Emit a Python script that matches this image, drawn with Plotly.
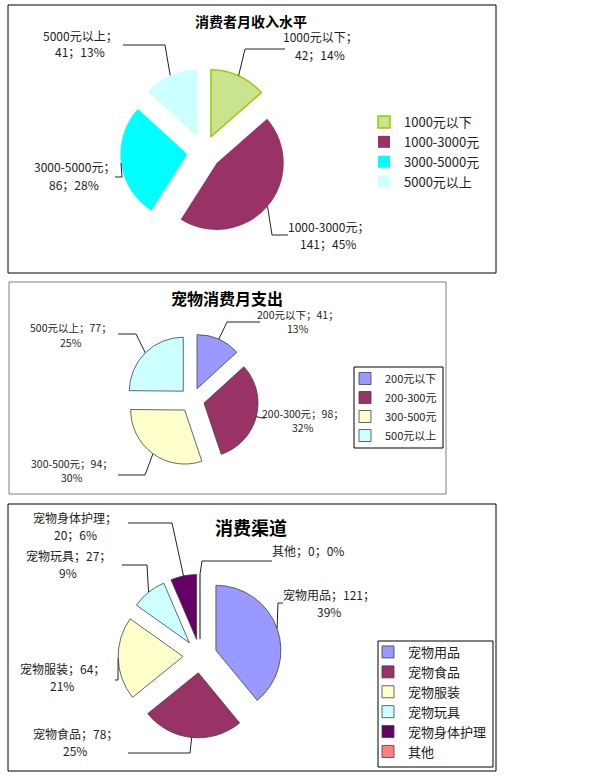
import numpy as np
import plotly.graph_objects as go

W, H = 590, 778
FONT = "Noto Sans CJK SC"

# panel 1: 消费者月收入水平
income_labels = ["1000元以下", "1000-3000元", "3000-5000元", "5000元以上"]
income_values = [42, 141, 86, 41]
income_colors = ["#c9e38f", "#993366", "#00ffff", "#ccffff"]

# panel 2: 宠物消费月支出
spend_labels = ["200元以下", "200-300元", "300-500元", "500元以上"]
spend_values = [41, 98, 94, 77]
spend_colors = ["#9999ff", "#993366", "#ffffcc", "#ccffff"]

# panel 3: 消费渠道
channel_labels = ["宠物用品", "宠物食品", "宠物服装", "宠物玩具", "宠物身体护理", "其他"]
channel_values = [121, 78, 64, 27, 20, 0]
channel_colors = ["#9999ff", "#993366", "#ffffcc", "#ccffff", "#660066", "#ff8080"]


def px(x):
    return x / W


def py(y):
    return 1 - y / H


def pct(values):
    tot = sum(values)
    return [round(v * 100 / tot) for v in values]


def mid_angles(values):
    tot = float(sum(values))
    cum = np.cumsum([0] + list(values))
    return [(cum[i] + cum[i + 1]) / 2 / tot * 2 * np.pi for i in range(len(values))]


# pies: centre (px), radius (px), pull
pies = [
    dict(labels=income_labels, values=income_values, colors=income_colors,
         c=(204, 152), r=67, pull=0.25, legend="legend"),
    dict(labels=spend_labels, values=spend_values, colors=spend_colors,
         c=(192, 400), r=54, pull=0.23, legend="legend2"),
    dict(labels=channel_labels, values=channel_values, colors=channel_colors,
         c=(200, 656), r=65, pull=0.26, legend="legend3"),
]

fig = go.Figure()
for k, p in enumerate(pies):
    half = p["r"] * (1 + p["pull"])
    cx, cy = p["c"]
    if k == 0:
        line = dict(color=["#99cc00", "rgba(0,0,0,0)", "rgba(0,0,0,0)", "rgba(0,0,0,0)"],
                    width=[1.5, 0, 0, 0])
    else:
        line = dict(color="#404040", width=0.8)
    fig.add_trace(go.Pie(
        labels=p["labels"], values=p["values"], sort=False,
        direction="clockwise", rotation=0,
        marker=dict(colors=p["colors"], line=line),
        pull=[p["pull"]] * len(p["values"]),
        textinfo="none", hoverinfo="label+value+percent",
        domain=dict(x=[px(cx - half), px(cx + half)],
                    y=[py(cy + half), py(cy - half)]),
        legend=p["legend"], showlegend=True,
    ))

# data labels: (centre x, first line y), leader start, leader elbow (px)
label_pos = [
    [((320, 37), (285, 49), (245, 49)),
     ((328, 226), (288, 235), (272, 235)),
     ((74, 167), (115, 177), (122, 177)),
     ((80, 35), (123, 45), (165, 45))],
    [((298, 314), (260, 322), (227, 322)),
     ((303, 413), (265, 418), (262, 418)),
     ((72, 463), (118, 475), (145, 475)),
     ((71, 328), (118, 334), (136, 334))],
    [((329, 594), (283, 603), (278, 603)),
     ((75, 733), (128, 753), (190, 753)),
     ((62, 668), (115, 680), (118, 680)),
     ((68, 555), (122, 565), (147, 565)),
     ((75, 517), (128, 523), (172, 523)),
     ((308, 550), (272, 561), (202, 561))],
]
label_lines = [
    [(f"{l}；", f"{v}；{q}%") for l, v, q in zip(income_labels, income_values, pct(income_values))],
    [(f"{l}；{v}；", f"{q}%") for l, v, q in zip(spend_labels, spend_values, pct(spend_values))],
    [(f"{l}；{v}；", f"{q}%") for l, v, q in zip(channel_labels, channel_values, pct(channel_values))],
]
label_lines[2][4] = ("宠物身体护理；", f"{channel_values[4]}；{pct(channel_values)[4]}%")
label_lines[2][5] = (f"其他；{channel_values[5]}；{pct(channel_values)[5]}%",)
label_size = [12, 10.5, 12]
line_gap = [17, 14.5, 17.5]

annotations = []
shapes = []
for k, p in enumerate(pies):
    angs = mid_angles(p["values"])
    cx, cy = p["c"]
    R = p["r"] * (1 + p["pull"])
    for i, (lines, (tc, s, e)) in enumerate(zip(label_lines[k], label_pos[k])):
        ex, ey = cx + R * np.sin(angs[i]), cy - R * np.cos(angs[i])
        for j, txt in enumerate(lines):
            annotations.append(dict(
                x=px(tc[0]), y=py(tc[1] + j * line_gap[k]), xref="paper", yref="paper",
                xanchor="center", yanchor="middle",
                text=txt, showarrow=False,
                font=dict(family=FONT, size=label_size[k], color="#222222")))
        shapes.append(dict(
            type="path", xref="paper", yref="paper",
            path=f"M {px(s[0])},{py(s[1])} L {px(e[0])},{py(e[1])} L {px(ex)},{py(ey)}",
            line=dict(color="#222222", width=1)))

# titles
for txt, (x, y), size in [("消费者月收入水平", (251, 21), 14),
                          ("宠物消费月支出", (227, 298), 16),
                          ("消费渠道", (251, 527), 18)]:
    annotations.append(dict(x=px(x), y=py(y), xref="paper", yref="paper",
                            xanchor="center", yanchor="middle",
                            text=f"<b>{txt}</b>", showarrow=False,
                            font=dict(family=FONT, size=size, color="#000000")))

# panel borders and legend boxes
for (x0, y0, x1, y1), col in [((8, 5, 496, 273), "#000000"),
                              ((9, 282, 446, 494), "#808080"),
                              ((8, 504, 496, 771), "#000000"),
                              ((354, 367, 443, 448), "#000000"),
                              ((378, 641, 493, 767), "#000000")]:
    shapes.append(dict(type="rect", xref="paper", yref="paper",
                       x0=px(x0), x1=px(x1), y0=py(y1), y1=py(y0),
                       line=dict(color=col, width=1)))

fig.update_layout(
    width=W, height=H, margin=dict(l=0, r=0, t=0, b=0),
    paper_bgcolor="white", plot_bgcolor="white",
    font=dict(family=FONT, color="#222222"),
    annotations=annotations, shapes=shapes,
    legend=dict(x=px(364), y=py(107), xanchor="left", yanchor="top",
                font=dict(size=13), borderwidth=0, bgcolor="rgba(0,0,0,0)"),
    legend2=dict(x=px(345), y=py(364), xanchor="left", yanchor="top",
                 font=dict(size=11), borderwidth=0, bgcolor="rgba(0,0,0,0)"),
    legend3=dict(x=px(368), y=py(637), xanchor="left", yanchor="top",
                 font=dict(size=13), borderwidth=0, bgcolor="rgba(0,0,0,0)"),
)

fig.write_html("out.html", config={"displayModeBar": False},
               post_script="document.body.style.margin='0';")
